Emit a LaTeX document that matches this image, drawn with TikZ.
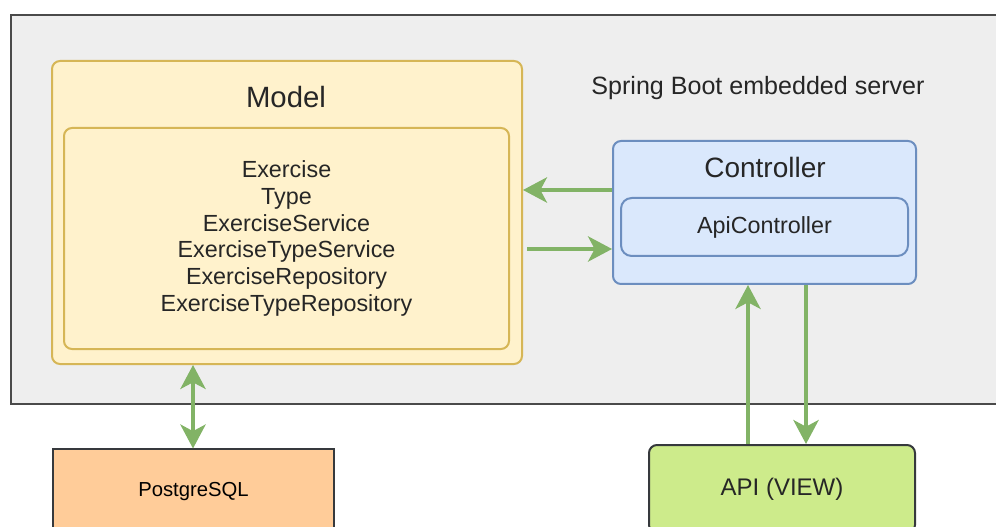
\documentclass[tikz,border=0pt]{standalone}
\usepackage{fontspec}
\setmainfont{Liberation Sans}
\usepackage{xcolor}
\usetikzlibrary{arrows.meta}

\definecolor{srvfill}{HTML}{EEEEEE}
\definecolor{srvline}{HTML}{4A4A4A}
\definecolor{mdlfill}{HTML}{FFF2CC}
\definecolor{mdlline}{HTML}{D6B656}
\definecolor{ctlfill}{HTML}{DAE8FC}
\definecolor{ctlline}{HTML}{6C8EBF}
\definecolor{dbfill}{HTML}{FFCC99}
\definecolor{apifill}{HTML}{CDEB8B}
\definecolor{darkline}{HTML}{36393D}
\definecolor{flowgreen}{HTML}{82B366}

\tikzset{
  box/.style={draw, line width=1.5pt, rounded corners=6pt, inner sep=0pt, align=center, text=black!85},
  mdlbox/.style={box, fill=mdlfill, draw=mdlline},
  ctlbox/.style={box, fill=ctlfill, draw=ctlline},
  title/.style={font=\fontsize{21}{25}\selectfont, text=black!85},
  flow/.style={draw=flowgreen, line width=2.5pt, -{Stealth[length=18pt,width=19pt,inset=5pt]}}
}

\begin{document}
\begin{tikzpicture}[x=0.75pt, y=-0.75pt]
\useasboundingbox (0,0) rectangle (996,527);
\clip (0,0) rectangle (996,527);

\draw[srvline, fill=srvfill, line width=1.2pt] (11,15) rectangle (1010,404);	% server
\node[font=\fontsize{18.8}{22}\selectfont, text=black!85] (srvlabel) at (758,88) {Spring Boot embedded server};

\node[mdlbox, minimum width=352.5pt, minimum height=227.25pt] (model) at (287,212.5) {};	% Model aussen
\node[title, font=\fontsize{22}{26}\selectfont] (modeltitle) at (286,97) {Model};
\node[mdlbox, minimum width=333.75pt, minimum height=165.75pt, font=\fontsize{17.5}{20.1}\selectfont] (classes) at (286.5,238.5)
  {Exercise\\Type\\ExerciseService\\ExerciseTypeService\\ExerciseRepository\\ExerciseTypeRepository};

\node[ctlbox, minimum width=227.25pt, minimum height=107.25pt] (ctrl) at (764.5,212.5) {};	% Controller aussen
\node[title] (ctrltitle) at (765,167) {Controller};
\node[ctlbox, rounded corners=8pt, minimum width=215.25pt, minimum height=43.5pt, font=\fontsize{17.5}{20}\selectfont] (apictrl) at (764.5,227) {ApiController};

\node[draw=darkline, fill=dbfill, line width=0.8pt, minimum width=210.75pt, minimum height=64.5pt, font=\fontsize{15.2}{18}\selectfont] (db) at (193.5,492) {PostgreSQL};
\node[box, draw=darkline, fill=apifill, minimum width=199.5pt, minimum height=66pt, font=\fontsize{18}{21}\selectfont] (api) at (782,489) {API (VIEW)};

\draw[flow] (ctrl.west |- 0,190) -- (model.east |- 0,190);		% ctrl -> model
\draw[flow] (527,249) -- (ctrl.west |- 0,249);					% model -> ctrl
\draw[flow] (748,0 |- api.north) -- (748,0 |- ctrl.south);		% api -> ctrl
\draw[flow] (806,0 |- ctrl.south) -- (806,0 |- api.north);		% ctrl -> api
\draw[flow, {Stealth[length=18pt,width=19pt,inset=5pt]}-{Stealth[length=18pt,width=19pt,inset=5pt]}] (193,0 |- model.south) -- (193,0 |- db.north);	% model <-> db

\end{tikzpicture}
\end{document}
